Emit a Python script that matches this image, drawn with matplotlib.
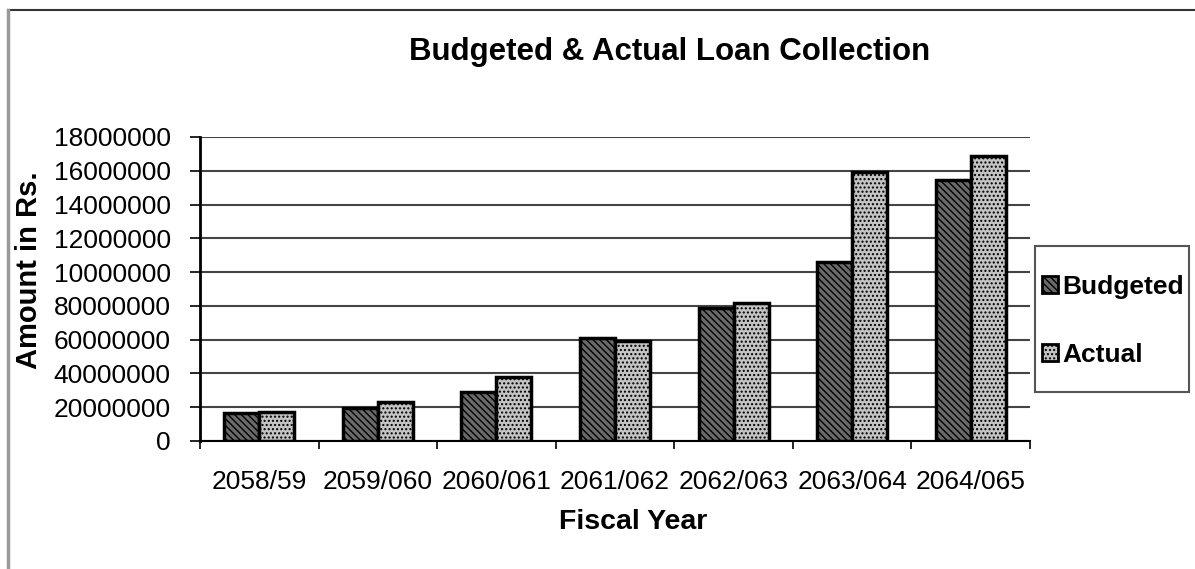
import numpy as np
import matplotlib.pyplot as plt
from matplotlib.patches import Patch, Rectangle
from matplotlib.lines import Line2D

years = ['2058/59', '2059/060', '2060/061', '2061/062', '2062/063', '2063/064', '2064/065']
budgeted = [1650000, 1950000, 2900000, 6100000, 7900000, 10600000, 15450000]
actual = [1700000, 2300000, 3800000, 5900000, 8150000, 15900000, 16850000]
yticks = [0, 2000000, 4000000, 6000000, 8000000, 10000000, 12000000, 14000000, 16000000, 18000000]
ytick_labels = ['0', '20000000', '40000000', '60000000', '80000000',
                '10000000', '12000000', '14000000', '16000000', '18000000']

plt.rcParams['font.family'] = ['Liberation Sans', 'DejaVu Sans']
plt.rcParams['hatch.linewidth'] = 1.0

W, H = 1195, 569
fig = plt.figure(figsize=(W / 100, H / 100), dpi=100)
fig.patch.set_facecolor('white')

# chart area border (top and left visible in the scan)
fig.add_artist(Line2D([8 / W, 1], [1 - 10 / H, 1 - 10 / H], color='#333333', lw=1.5,
                      transform=fig.transFigure))
fig.add_artist(Line2D([8 / W, 8 / W], [0, 1 - 10 / H], color='#999999', lw=2.5,
                      transform=fig.transFigure))

ax = fig.add_axes([200 / W, 1 - 441 / H, 830 / W, 304 / H])
x = np.arange(len(years))
w = 0.295
ax.bar(x - w / 2, budgeted, w, facecolor='#6a6a6a', edgecolor='black', lw=2.5,
       hatch='\\\\\\\\\\', zorder=3)
ax.bar(x + w / 2, actual, w, facecolor='#c4c4c4', edgecolor='black', lw=2.5,
       hatch='....', zorder=3)

ax.set_xlim(-0.5, len(years) - 0.5)
ax.set_ylim(0, 18000000)
ax.set_yticks(yticks)
ax.set_yticklabels(ytick_labels)
ax.set_xticks(x)
ax.set_xticklabels(years)
ax.set_xticks(np.arange(-0.5, len(years)), minor=True)
ax.tick_params(axis='x', which='major', length=0, pad=21, labelsize=19)
ax.tick_params(axis='x', which='minor', length=6, width=1.2, direction='out')
ax.tick_params(axis='y', length=7, width=1.2, direction='out', labelsize=19, pad=14)
ax.grid(axis='y', color='#444444', lw=1.5, zorder=0)
for s in ['top', 'right']:
    ax.spines[s].set_visible(False)
ax.spines['left'].set_linewidth(2)
ax.spines['bottom'].set_linewidth(1.5)

ax.set_xlabel('Fiscal Year', fontsize=20.5, fontweight='bold', va='center')
ax.xaxis.set_label_coords((633 - 200) / 830, (441 - 522) / 304)
ax.set_ylabel('Amount in Rs.', fontsize=21, fontweight='bold', va='center')
ax.yaxis.set_label_coords((29 - 200) / 830, (441 - 270) / 304)
fig.text(670 / W, 1 - 52 / H, 'Budgeted & Actual Loan Collection', fontsize=22.5,
         fontweight='bold', ha='center', va='center')

# legend frame
fig.add_artist(Rectangle((1035 / W, 1 - 392 / H), 154 / W, 146 / H, transform=fig.transFigure,
                         facecolor='white', edgecolor='#555555', lw=1.5, zorder=1))
handles = [Patch(facecolor='#6a6a6a', edgecolor='black', hatch='\\\\\\\\\\', lw=2),
           Patch(facecolor='#c4c4c4', edgecolor='black', hatch='....', lw=2)]
leg = fig.legend(handles, ['Budgeted', 'Actual'], loc='upper left',
                 bbox_to_anchor=(1042 / W, 1 - 275 / H), frameon=False,
                 handlelength=0.62, handleheight=0.62, handletextpad=0.15,
                 labelspacing=1.67, borderpad=0, borderaxespad=0,
                 prop={'size': 19, 'weight': 'bold'})
leg.set_zorder(2)

fig.savefig('out.png', dpi=100)
